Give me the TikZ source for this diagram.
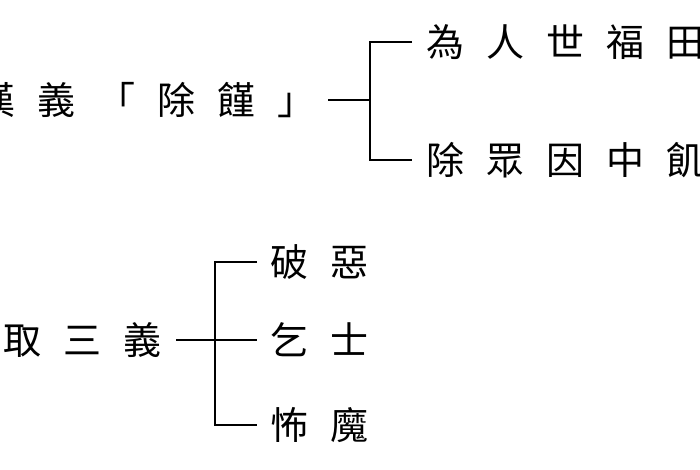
\documentclass[tikz,border=0pt]{standalone}
\usepackage{fontspec}
\newfontfamily\cjk{Noto Sans CJK TC}
\usetikzlibrary{positioning}
\newcommand{\gap}{\hspace{22pt}}
\begin{document}
\begin{tikzpicture}[x=1pt,y=-1pt,line width=1.6pt,
	txt/.style={font=\cjk\fontsize{38}{38}\selectfont,inner sep=0pt}]
	\useasboundingbox (0,0) rectangle (700,470);
	\clip (0,0) rectangle (700,470);

	\node[txt,anchor=east] (top) at (316,100) {漢\gap 義\gap 「\gap 除\gap 饉\gap 」};
	\node[txt,anchor=west] (t1) at (426,42) {為\gap 人\gap 世\gap 福\gap 田};
	\node[txt,anchor=west] (t2) at (426,160) {除\gap 眾\gap 因\gap 中\gap 飢};
	\coordinate (tj) at (370,100);
	\draw (top.east) ++(12,0) -- (tj);
	\draw (t1.west) ++(-14,0) -| (tj) |- ([xshift=-14pt]t2.west);

	\node[txt,anchor=east] (bot) at (162,340) {取\gap 三\gap 義};
	\node[txt,anchor=west] (b1) at (270,262) {破\gap 惡};
	\node[txt,anchor=west] (b2) at (270,340) {乞\gap 士};
	\node[txt,anchor=west] (b3) at (270,425) {怖\gap 魔};
	\coordinate (bj) at (215,340);
	\draw (bot.east) ++(14,0) -- ([xshift=-13pt]b2.west);
	\draw (b1.west) ++(-13,0) -| (bj) |- ([xshift=-13pt]b3.west);
\end{tikzpicture}
\end{document}
